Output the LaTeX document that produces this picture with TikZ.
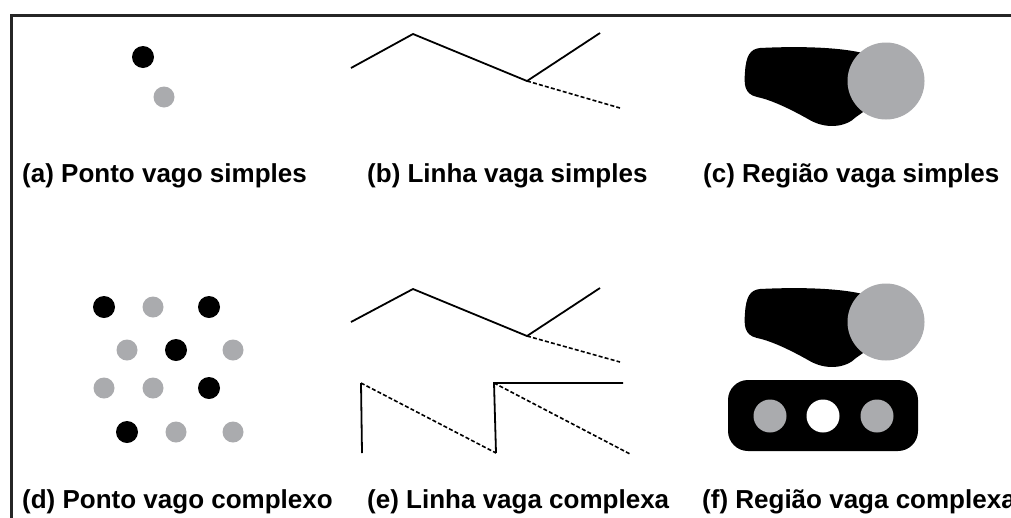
\documentclass[tikz,border=0pt]{standalone}
\usepackage{fontspec}
\setmainfont{Liberation Sans}
\definecolor{vaguegray}{RGB}{170,171,174}
\begin{document}
\begin{tikzpicture}[x=1pt,y=-1pt,
  frameline/.style={line width=3pt,draw=black!85},
  solidline/.style={line width=1.8pt,line join=miter},
  vagueline/.style={line width=1.6pt,dash pattern=on 4pt off 2.2pt},
  blackdot/.style={circle,fill=black,inner sep=0pt,minimum size=22pt},
  graydot/.style={circle,fill=vaguegray,inner sep=0pt,minimum size=21pt},
  holegray/.style={circle,fill=vaguegray,inner sep=0pt,minimum size=33pt},
  holewhite/.style={circle,fill=white,inner sep=0pt,minimum size=33pt},
  bigcircle/.style={circle,fill=vaguegray,inner sep=0pt,minimum size=77pt},
  caption/.style={anchor=base west,inner sep=0pt,font=\fontsize{26}{30}\selectfont\bfseries}]
\useasboundingbox (0,0) rectangle (1011,517);
\clip (0,0) rectangle (1011,517);
\fill[white] (0,0) rectangle (1011,517);

% outer frame
\draw[frameline] (11,520) -- (11,15) -- (1015,15);

% (a) simple vague point
\node[blackdot] (a1) at (143,57) {};
\node[graydot]  (a2) at (164,97) {};
\node[caption] (capa) at (22,182) {(a) Ponto vago simples};

% (b) simple vague line
\coordinate (b1) at (351,68);
\coordinate (b2) at (413,34);
\coordinate (b3) at (527,81);
\coordinate (b4) at (600,33);
\coordinate (b5) at (620,108);
\draw[solidline] (b1) -- (b2) -- (b3) -- (b4);
\draw[vagueline] (b3) -- (b5);
\node[caption] (capb) at (367,182) {(b) Linha vaga simples};

% (c) simple vague region
\fill[black] (760,48) .. controls (800,46) and (845,47) .. (870,55)
  -- (880,100) -- (856,117)
  .. controls (846,127) and (826,130) .. (808,119)
  .. controls (792,110) and (772,100) .. (757,97)
  .. controls (744,94) and (744,84) .. (745,72)
  .. controls (746,56) and (750,49) .. (760,48) -- cycle;
\node[bigcircle] (c1) at (886,81) {};
\node[caption] (capc) at (703,182) {(c) Região vaga simples};

% (d) complex vague point
\node[blackdot] (d11) at (104,307) {};
\node[graydot]  (d12) at (153,307) {};
\node[blackdot] (d13) at (209,307) {};
\node[graydot]  (d21) at (127,350) {};
\node[blackdot] (d22) at (176,350) {};
\node[graydot]  (d23) at (233,350) {};
\node[graydot]  (d31) at (104,388) {};
\node[graydot]  (d32) at (153,388) {};
\node[blackdot] (d33) at (209,388) {};
\node[blackdot] (d41) at (127,432) {};
\node[graydot]  (d42) at (176,432) {};
\node[graydot]  (d43) at (233,432) {};
\node[caption] (capd) at (22,508) {(d) Ponto vago complexo};

% (e) complex vague line
\coordinate (e1) at (351,322);
\coordinate (e2) at (413,289);
\coordinate (e3) at (527,336);
\coordinate (e4) at (600,288);
\coordinate (e5) at (620,362);
\draw[solidline] (e1) -- (e2) -- (e3) -- (e4);
\draw[vagueline] (e3) -- (e5);
\coordinate (f1) at (362,453);
\coordinate (f2) at (361,383);
\coordinate (f3) at (496,453);
\coordinate (f4) at (494,383);
\coordinate (f5) at (623,383);
\coordinate (f6) at (630,454);
\draw[solidline] (f1) -- (f2);
\draw[vagueline] (f2) -- (f3);
\draw[solidline] (f3) -- (f4) -- (f5);
\draw[vagueline] (f4) -- (f6);
\node[caption] (cape) at (367,508) {(e) Linha vaga complexa};

% (f) complex vague region
\fill[black] (760,289) .. controls (800,287) and (845,288) .. (870,296)
  -- (880,341) -- (856,358)
  .. controls (846,368) and (826,371) .. (808,360)
  .. controls (792,351) and (772,341) .. (757,338)
  .. controls (744,335) and (744,325) .. (745,313)
  .. controls (746,297) and (750,290) .. (760,289) -- cycle;
\node[bigcircle] (g1) at (886,322) {};
\fill[black,rounded corners=20pt] (728,380) rectangle (918,451);
\node[holegray]  (h1) at (770,416) {};
\node[holewhite] (h2) at (823,416) {};
\node[holegray]  (h3) at (877,416) {};
\node[caption] (capf) at (702,508) {(f) Região vaga complexa};
\end{tikzpicture}
\end{document}
